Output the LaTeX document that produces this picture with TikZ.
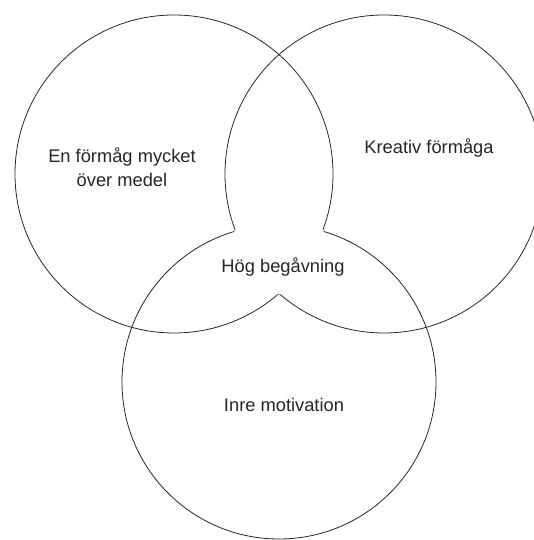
\documentclass[tikz,border=0pt]{standalone}
\usepackage{fontspec}
\setmainfont{Liberation Sans}
\usetikzlibrary{positioning}
\definecolor{ink}{HTML}{262626}
\definecolor{paper}{HTML}{FFFFFF}

\begin{document}
\begin{tikzpicture}[
    x=1pt, y=1pt,
    ring/.style={draw=ink, line width=0.8pt, circle, inner sep=0pt, minimum size=#1},
    vtext/.style={text=ink, font=\fontsize{18.3}{24}\selectfont, align=center, inner sep=0pt}
  ]
  \useasboundingbox (0,0) rectangle (533,540);

  % the three sets
  \node[ring=318pt] (formaga) at (174,366) {};
  \node[ring=318pt] (kreativ) at (384,366) {};
  \node[ring=314pt] (motivation) at (279,158) {};

  % outlines vanish where all three overlap
  \begin{scope}
    \clip (kreativ.center) circle (159);
    \clip (motivation.center) circle (157);
    \draw[paper, line width=3pt] (formaga.center) circle (159);
  \end{scope}
  \begin{scope}
    \clip (formaga.center) circle (159);
    \clip (motivation.center) circle (157);
    \draw[paper, line width=3pt] (kreativ.center) circle (159);
  \end{scope}
  \begin{scope}
    \clip (formaga.center) circle (159);
    \clip (kreativ.center) circle (159);
    \draw[paper, line width=3pt] (motivation.center) circle (157);
  \end{scope}

  \node[vtext] (formagatext) at (122,373) {En förmåg mycket\\över medel};
  \node[vtext] (kreativtext) at (429,392) {Kreativ förmåga};
  \node[vtext] (begavning) at (283,273) {Hög begåvning};
  \node[vtext] (motivationtext) at (284,135) {Inre motivation};
\end{tikzpicture}
\end{document}
